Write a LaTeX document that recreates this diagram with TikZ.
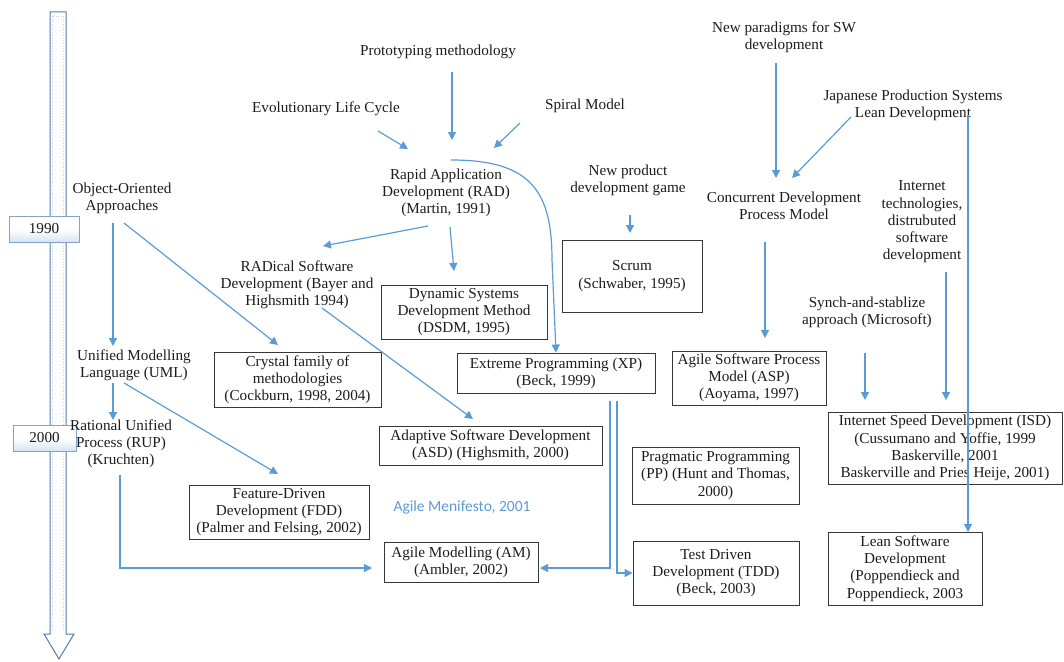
\documentclass[tikz,border=0pt]{standalone}
\usepackage{fontspec}
\setmainfont{Liberation Serif}
\newfontfamily\manifestofont{Carlito}
\usetikzlibrary{arrows.meta,calc,shadings}

\definecolor{linkblue}{RGB}{91,155,213}
\definecolor{inkgray}{RGB}{28,28,28}
\definecolor{boxgray}{RGB}{55,55,55}
\definecolor{timeblue}{RGB}{84,122,178}
\definecolor{paleblue}{RGB}{214,228,245}
\definecolor{dotblue}{RGB}{196,214,240}

\tikzset{
  lbl/.style={align=center, text=inkgray, inner sep=0pt,
    font=\fontsize{15.2}{17.2}\selectfont},
  method/.style={lbl, draw=boxgray, line width=0.9pt},
  yearbox/.style={lbl, draw=timeblue!70, line width=1pt,
    top color=white, bottom color=paleblue, middle color=white},
  flow/.style={draw=linkblue, line width=1.2pt,
    -{Triangle[length=8pt,width=8pt]}},
}

\begin{document}
\begin{tikzpicture}[x=1pt,y=-1pt]
\useasboundingbox (0,0) rectangle (1064,661);

% time axis
\draw[timeblue, line width=1pt, fill=white, line join=miter]
  (50,12) -- (66,12) -- (66,634) -- (74,634) -- (59,659) -- (44,634) -- (50,634) -- cycle;
\draw[dotblue, dotted, line width=0.7pt] (52.5,16) -- (52.5,630);
\draw[dotblue, dotted, line width=0.7pt] (63.5,16) -- (63.5,630);
\draw[dotblue, dotted, line width=0.7pt] (53,16) -- (63,16);

\node[yearbox, minimum width=70pt, minimum height=26pt] (y1990) at (44,229) {1990};
\node[yearbox, minimum width=63pt, minimum height=26pt] (y2000) at (44.5,438) {2000};

% origins and influences
\node[lbl] (proto)  at (438,52)    {Prototyping methodology};
\node[lbl] (evo)    at (326,109)   {Evolutionary Life Cycle};
\node[lbl] (spiral) at (585,106)   {Spiral Model};
\node[lbl] (rad)    at (446,193)   {Rapid Application\\Development (RAD)\\(Martin, 1991)};
\node[lbl] (newprod) at (628,180)  {New product\\development game};
\node[lbl] (newpar) at (784,37)    {New paradigms for SW\\development};
\node[lbl] (japan)  at (913,105.5) {Japanese Production Systems\\Lean Development};
\node[lbl] (concur) at (784,206)   {Concurrent Development\\Process Model};
\node[lbl] (inet)   at (922,222)   {Internet\\technologies,\\distrubuted\\software\\development};
\node[lbl] (synch)  at (867,312.5) {Synch-and-stablize\\approach (Microsoft)};
\node[lbl] (oo)     at (122,198)   {Object-Oriented\\Approaches};
\node[lbl] (radical) at (297,285)  {RADical Software\\Development (Bayer and\\Highsmith 1994)};
\node[lbl] (uml)    at (134,365.5) {Unified Modelling\\Language (UML)};
\node[lbl] (rup)    at (121,444)   {Rational Unified\\Process (RUP)\\(Kruchten)};
\node[lbl, text=linkblue, font=\manifestofont\fontsize{15.5}{18}\selectfont]
  (manifesto) at (462,507) {Agile Menifesto, 2001};

% agile methods
\node[method, minimum width=140pt, minimum height=72pt] (scrum)   at (632,276)     {Scrum\\(Schwaber, 1995)};
\node[method, minimum width=166pt, minimum height=54pt] (dsdm)    at (464,312)     {Dynamic Systems\\Development Method\\(DSDM, 1995)};
\node[method, minimum width=167pt, minimum height=55pt] (crystal) at (297.5,379.5) {Crystal family of\\methodologies\\(Cockburn, 1998, 2004)};
\node[method, minimum width=198pt, minimum height=40pt] (xp)      at (556,373)     {Extreme Programming (XP)\\(Beck, 1999)};
\node[method, minimum width=223pt, minimum height=39pt] (asd)     at (490.5,445.5) {Adaptive Software Development\\(ASD) (Highsmith, 2000)};
\node[method, minimum width=154pt, minimum height=54pt] (asp)     at (749,378)     {Agile Software Process\\Model (ASP)\\(Aoyama, 1997)};
\node[method, minimum width=234pt, minimum height=72pt] (isd)     at (945,448)     {Internet Speed Development (ISD)\\(Cussumano and Yoffie, 1999\\Baskerville, 2001\\Baskerville and Pries Heije, 2001)};
\node[method, minimum width=167pt, minimum height=57pt] (pp)      at (715.5,475.5) {Pragmatic Programming\\(PP) (Hunt and Thomas,\\2000)};
\node[method, minimum width=166pt, minimum height=64pt] (tdd)     at (716,573)     {Test Driven\\Development (TDD)\\(Beck, 2003)};
\node[method, minimum width=154pt, minimum height=73pt] (lean)    at (905,568.5)   {Lean Software\\Development\\(Poppendieck and\\Poppendieck, 2003};
\node[method, minimum width=180pt, minimum height=54pt] (fdd)     at (279,512)     {Feature-Driven\\Development (FDD)\\(Palmer and Felsing, 2002)};
\node[method, minimum width=154pt, minimum height=40pt] (am)      at (461,562)     {Agile Modelling (AM)\\(Ambler, 2002)};

% influences
\draw[flow] ($(proto)+(14,20)$) -- ($(rad)+(6,-53)$);
\draw[flow] ($(evo)+(52,22)$) -- ($(rad)+(-38,-44)$);
\draw[flow] ($(spiral)+(-65,17)$) -- ($(rad)+(48,-45)$);
\draw[flow] ($(rad)+(5,-33)$) .. controls ($(rad)+(84,-33)$) and ($(rad)+(106,-3)$)
  .. ($(rad)+(106,67)$) -- (xp.north);
\draw[flow] ($(rad)+(-18,33)$) -- ($(radical)+(26,-39)$);
\draw[flow] ($(rad)+(4,34)$) -- ($(dsdm)+(-10,-41)$);
\draw[flow] ($(newprod)+(2,35)$) -- ($(scrum)+(-2,-43)$);
\draw[flow] ($(newpar)+(-8,26)$) -- ($(concur)+(-8,-28)$);
\draw[flow] ($(japan)+(-62,11.5)$) -- ($(concur)+(8,-28)$);
\draw[flow] ($(japan)+(55,9.5)$) -- ($(lean)+(63,-36.5)$);
\draw[flow] ($(concur)+(-19,36)$) -- ($(asp)+(16,-40)$);
\draw[flow] ($(synch)+(-2,40.5)$) -- ($(isd)+(-80,-48)$);
\draw[flow] ($(inet)+(24,50)$) -- ($(isd)+(1,-48)$);
\draw[flow] ($(oo)+(-9,25)$) -- ($(uml)+(-21,-19.5)$);
\draw[flow] ($(oo)+(2,25)$) -- ($(crystal)+(-19.5,-34.5)$);
\draw[flow] ($(radical)+(25,23)$) -- ($(asd)+(-17.5,-26.5)$);
\draw[flow] ($(uml)+(-21,17.5)$) -- ($(rup)+(-8,-24)$);
\draw[flow] ($(uml)+(-10,17.5)$) -- ($(fdd)+(-1,-38)$);
\draw[flow] ($(rup)+(-1,31)$) |- ($(am)+(-89,6)$);
\draw[flow] ($(xp)+(54,28)$) |- ($(am)+(79,6)$);
\draw[flow] ($(xp)+(61,28)$) |- (tdd.west);
\end{tikzpicture}
\end{document}
